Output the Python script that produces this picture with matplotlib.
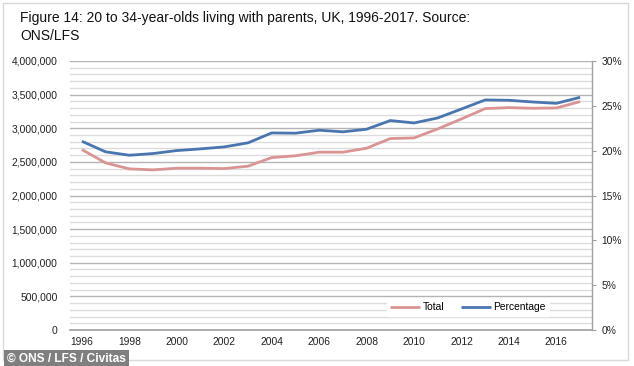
import matplotlib
matplotlib.use("Agg")
import matplotlib.pyplot as plt
from matplotlib.patches import Rectangle
from matplotlib.ticker import MultipleLocator, FuncFormatter

years = list(range(1996, 2018))
total = [2683000, 2485000, 2396000, 2381000, 2406000, 2406000, 2400000, 2436000,
         2564000, 2590000, 2644000, 2644000, 2703000, 2847000, 2856000, 2990000,
         3139000, 3292000, 3307000, 3297000, 3302000, 3396000]
percentage = [21.05, 19.87, 19.49, 19.68, 20.01, 20.20, 20.42, 20.87,
              21.98, 21.95, 22.28, 22.10, 22.39, 23.36, 23.09, 23.65,
              24.65, 25.66, 25.62, 25.43, 25.28, 25.95]
year_labels = [str(y) for y in years]

title = "Figure 14: 20 to 34-year-olds living with parents, UK, 1996-2017. Source:\nONS/LFS"
credit = "\u00a9 ONS / LFS / Civitas"

plt.rcParams['font.family'] = ['Liberation Sans', 'DejaVu Sans']

W, H = 634, 366
fig = plt.figure(figsize=(W / 100, H / 100), dpi=100)

# outer frame
fig.patches.append(Rectangle((3 / W, 6 / H), 625 / W, 357 / H, transform=fig.transFigure,
                             fill=False, edgecolor='#d9d9d9', linewidth=1.0))

ax = fig.add_axes([70 / W, (H - 330) / H, (592 - 70) / W, (330 - 61) / H])
x = list(range(len(years)))

ax.set_xlim(-0.5, len(years) - 0.5)
ax.set_ylim(0, 4000000)
ax.yaxis.set_major_locator(MultipleLocator(500000))
ax.yaxis.set_minor_locator(MultipleLocator(100000))
ax.grid(which='major', axis='y', color='#b4b4b4', linewidth=1.0)
ax.grid(which='minor', axis='y', color='#dcdcdc', linewidth=1.0)
ax.set_axisbelow(True)
ax.yaxis.set_major_formatter(FuncFormatter(lambda v, p: f"{int(v):,}"))
ax.tick_params(axis='y', which='both', length=0, labelsize=7.4, pad=9, colors='#222222')
ax.set_xticks(x[::2])
ax.set_xticklabels(year_labels[::2])
ax.tick_params(axis='x', length=0, labelsize=7.4, pad=5, colors='#222222')
for s in ['top', 'left', 'right']:
    ax.spines[s].set_visible(False)
ax.spines['bottom'].set_color('#a0a0a0')
ax.spines['bottom'].set_linewidth(1.2)

l1, = ax.plot(x, total, color='#d99594', linewidth=2.0, label='Total', solid_capstyle='butt')

ax2 = ax.twinx()
ax2.set_ylim(0, 30)
ax2.yaxis.set_major_locator(MultipleLocator(5))
ax2.yaxis.set_major_formatter(FuncFormatter(lambda v, p: f"{int(v)}%"))
ax2.tick_params(axis='y', length=3, width=0.8, color='#a0a0a0', labelsize=7.4, pad=4,
                labelcolor='#222222')
for s in ['top', 'left', 'bottom']:
    ax2.spines[s].set_visible(False)
ax2.spines['right'].set_color('#a0a0a0')
ax2.spines['right'].set_linewidth(1.0)
l2, = ax2.plot(x, percentage, color='#4a76b0', linewidth=2.0, label='Percentage',
               solid_capstyle='butt')

leg = ax2.legend(handles=[l1, l2], loc='center', bbox_to_anchor=((468 - 70) / 522, (330 - 307.5) / 269),
                 ncol=2, frameon=True, fontsize=7.4, handlelength=2.9, handletextpad=0.25,
                 columnspacing=1.6, borderpad=0.35, borderaxespad=0, fancybox=False)
leg.get_frame().set_edgecolor('white')
leg.get_frame().set_facecolor('white')
leg.get_frame().set_alpha(1.0)

fig.text(20 / W, 1 - 11 / H, title, fontsize=10, va='top', ha='left', color='#111111',
         linespacing=1.32)

fig.text(7 / W, 1 - 358.5 / H, credit, fontsize=8.6, fontweight='bold', color='white',
         va='center', ha='left',
         bbox=dict(boxstyle='square,pad=0.25', facecolor='#7f7f7f', edgecolor='none'))

fig.savefig('out.png', dpi=100)
